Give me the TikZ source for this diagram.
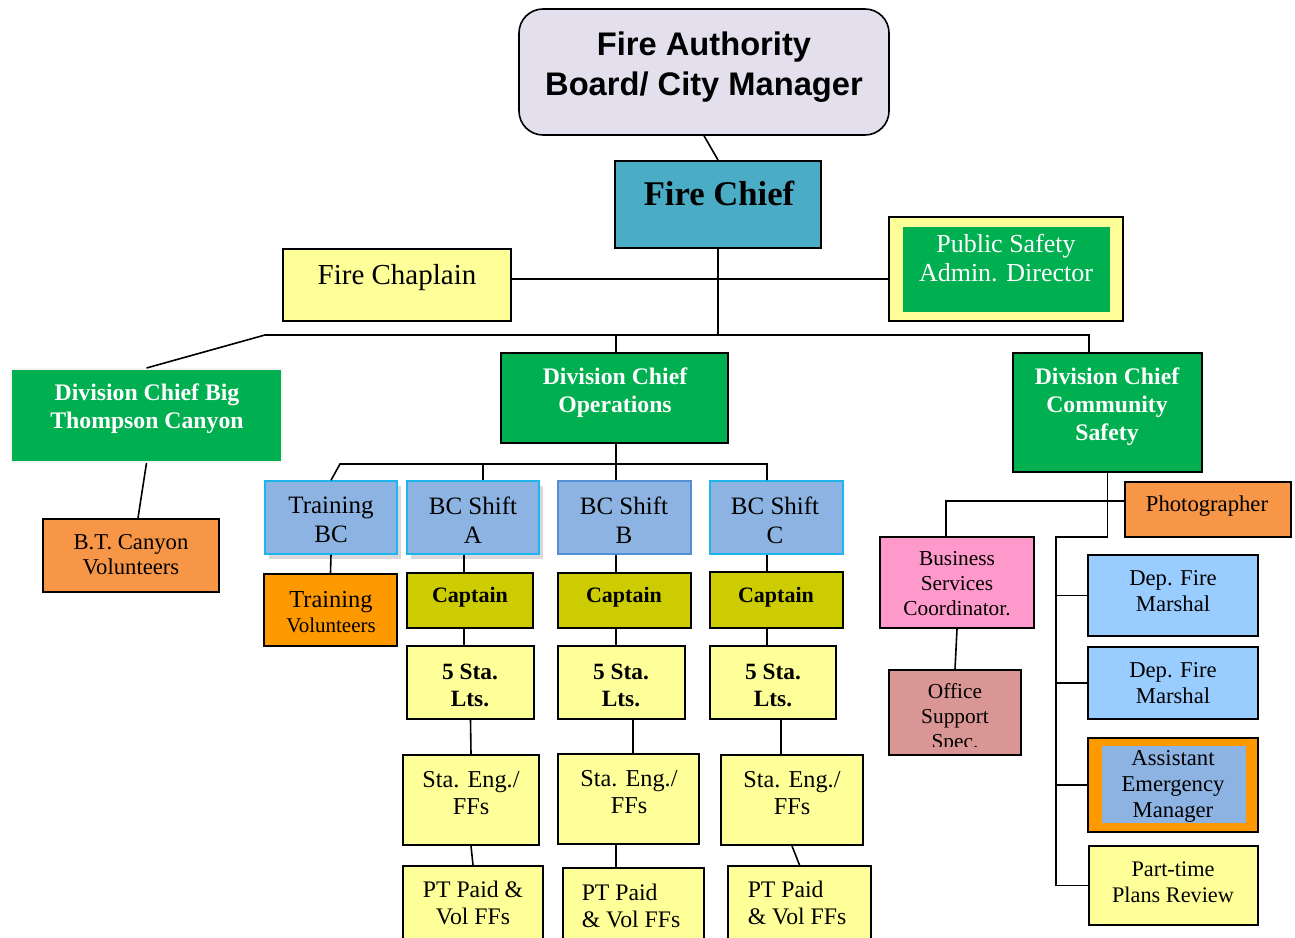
\documentclass[tikz,border=0pt]{standalone}
\usepackage{fontspec}
\setmainfont{Liberation Serif}
\newfontfamily\arialf{Liberation Sans}
\usetikzlibrary{fit,calc,shadows}
\definecolor{lav}{HTML}{E4DFEC}
\definecolor{fcblue}{HTML}{4BACC6}
\definecolor{yel}{HTML}{FFFF99}
\definecolor{grn}{HTML}{00B050}
\definecolor{orng}{HTML}{F79646}
\definecolor{orng2}{HTML}{FF9900}
\definecolor{blu}{HTML}{8DB3E2}
\definecolor{cyanb}{HTML}{1EB4EC}
\definecolor{bcbb}{HTML}{558ED5}
\definecolor{capy}{HTML}{CCCC00}
\definecolor{pinkb}{HTML}{FF99CC}
\definecolor{rose}{HTML}{DA9694}
\definecolor{lblue}{HTML}{99CCFF}
\newcommand\fs[2]{\fontsize{#1pt}{#2pt}\selectfont}
\tikzset{
  bx/.style={draw=black, line width=1.5pt, inner sep=0pt, rectangle},
  conn/.style={draw=black, line width=1.2pt},
  txt/.style={align=center, inner sep=0pt, text=black},
  shad/.style={drop shadow={opacity=0.3, shadow xshift=3pt, shadow yshift=-4pt}},
}
\begin{document}
\begin{tikzpicture}[x=0.75pt,y=-0.75pt]
\useasboundingbox (0,0) rectangle (1295,938);
\clip (0,0) rectangle (1295,938);

% top
\node[bx, fill=lav, rounded corners=18pt, line width=1.2pt, fit={(519,9)(889,135)}] (fa) {};
\node[txt, font=\arialf\bfseries\fs{24.5}{30}] (fa-t) at (704,67) {Fire Authority\\Board/ City Manager};
\node[bx, fill=fcblue, fit={(615,161)(821,248)}] (fc) {};
\node[txt, font=\bfseries\fs{26}{30}] (fc-t) at (719,193) {Fire Chief};
\node[bx, fill=yel, line width=1.2pt, fit={(283,249)(511,321)}] (chap) {};
\node[txt, font=\fs{21.75}{26}] (chap-t) at (397,278) {Fire Chaplain};
\node[bx, fill=yel, line width=1.2pt, fit={(889,217)(1123,321)}] (psad) {};
\node[rectangle, fill=grn, inner sep=0pt, fit={(903,227)(1110,312)}] (psad-in) {};
\node[txt, text=white, font=\fs{19.5}{21.75}] (psad-t) at (1006,258) {Public Safety\\Admin. Director};

% division chiefs
\node[bx, fill=grn, draw=gray!8, fit={(11,369)(282,462)}] (dcb) {};
\node[txt, text=white, font=\bfseries\fs{17.8}{21}] (dcb-t) at (147,409) {Division Chief Big\\Thompson Canyon};
\node[bx, fill=orng, fit={(43,519)(219,592)}] (bt) {};
\node[txt, font=\fs{17}{18.75}] (bt-t) at (131,555) {B.T. Canyon\\Volunteers};
\node[bx, fill=grn, fit={(501,353)(728,443)}] (dco) {};
\node[txt, text=white, font=\bfseries\fs{17.8}{21}] (dco-t) at (615,393) {Division Chief\\Operations};
\node[bx, fill=grn, fit={(1013,353)(1202,472)}] (dccs) {};
\node[txt, text=white, font=\bfseries\fs{17.8}{21}] (dccs-t) at (1107,407) {Division Chief\\Community\\Safety};

% BC row
\node[bx, fill=blu, draw=cyanb, line width=1.2pt, shad, fit={(265,481)(397,554)}] (tbc) {};
\node[txt, font=\fs{18.75}{21.75}] (tbc-t) at (331,520) {Training\\BC};
\node[bx, fill=blu, draw=cyanb, line width=1.2pt, shad, fit={(407,481)(539,554)}] (bca) {};
\node[txt, font=\fs{18.75}{21.75}] (bca-t) at (473,520) {BC Shift\\A};
\node[bx, fill=blu, draw=bcbb, line width=1.5pt, fit={(558,481)(691,554)}] (bcb) {};
\node[txt, font=\fs{18.75}{21.75}] (bcb-t) at (624,520) {BC Shift\\B};
\node[bx, fill=blu, draw=cyanb, line width=1.2pt, fit={(710,481)(843,554)}] (bcc) {};
\node[txt, font=\fs{18.75}{21.75}] (bcc-t) at (775,520) {BC Shift\\C};

\node[bx, fill=orng2, fit={(264,574)(397,646)}] (tv) {};
\node[txt] (tv-t) at (331,612) {{\fs{18.3}{22}Training}\\[3.5pt]{\fs{15.75}{22}Volunteers}};

% captains
\node[bx, fill=capy, fit={(407,573)(533,628)}] (capa) {};
\node[txt, font=\bfseries\fs{16.5}{20}] (capa-t) at (470,597) {Captain};
\node[bx, fill=capy, fit={(558,573)(691,628)}] (capb) {};
\node[txt, font=\bfseries\fs{16.5}{20}] (capb-t) at (624,597) {Captain};
\node[bx, fill=capy, line width=2.2pt, fit={(710,572)(843,628)}] (capc) {};
\node[txt, font=\bfseries\fs{16.5}{20}] (capc-t) at (776,597) {Captain};

% lieutenants
\node[bx, fill=yel, fit={(407,646)(534,719)}] (lta) {};
\node[txt, font=\bfseries\fs{17.5}{20.25}] (lta-t) at (470,685) {5 Sta.\\Lts.};
\node[bx, fill=yel, fit={(558,646)(685,719)}] (ltb) {};
\node[txt, font=\bfseries\fs{17.5}{20.25}] (ltb-t) at (621,685) {5 Sta.\\Lts.};
\node[bx, fill=yel, fit={(710,646)(836,719)}] (ltc) {};
\node[txt, font=\bfseries\fs{17.5}{20.25}] (ltc-t) at (773,685) {5 Sta.\\Lts.};

% station engineers
\node[bx, fill=yel, fit={(403,755)(539,845)}] (sea) {};
\node[txt, font=\fs{18.2}{20.25}] (sea-t) at (471,793) {Sta. Eng./\\FFs};
\node[bx, fill=yel, fit={(558,754)(699,844)}] (seb) {};
\node[txt, font=\fs{18.2}{20.25}] (seb-t) at (629,792) {Sta. Eng./\\FFs};
\node[bx, fill=yel, fit={(721,755)(863,845)}] (sec) {};
\node[txt, font=\fs{18.2}{20.25}] (sec-t) at (792,793) {Sta. Eng./\\FFs};

% PT paid
\node[bx, fill=yel, fit={(403,866)(543,948)}] (pta) {};
\node[txt, font=\fs{17.8}{20.25}] (pta-t) at (473,903) {PT Paid \&\\Vol FFs};
\node[bx, fill=yel, fit={(563,868)(704,948)}] (ptb) {};
\node[txt, align=left, font=\fs{17.8}{20.25}] (ptb-t) at (631,906) {PT Paid\\\& Vol FFs};
\node[bx, fill=yel, fit={(728,866)(871,948)}] (ptc) {};
\node[txt, align=left, font=\fs{17.8}{20.25}] (ptc-t) at (797,903) {PT Paid\\\& Vol FFs};

% right side
\node[bx, fill=orng, fit={(1125,482)(1291,537)}] (pho) {};
\node[txt, font=\fs{17}{20}] (pho-t) at (1207,506) {Photographer};
\node[bx, fill=pinkb, fit={(880,537)(1034,628)}] (bsc) {};
\node[txt, font=\fs{16}{18.75}] (bsc-t) at (957,584) {Business\\Services\\Coordinator.};
\node[bx, fill=rose, fit={(889,670)(1021,755)}] (off) {};
\begin{scope}
\clip (889,670) rectangle (1021,746);
\node[txt, font=\fs{16}{18.75}] (off-t) at (955,718) {Office\\Support\\Spec.};
\end{scope}
\node[bx, fill=lblue, fit={(1088,555)(1258,636)}] (dfm1) {};
\node[txt, font=\fs{17}{19.5}] (dfm1-t) at (1173,591) {Dep. Fire\\Marshal};
\node[bx, fill=lblue, fit={(1088,647)(1258,719)}] (dfm2) {};
\node[txt, font=\fs{17}{19.5}] (dfm2-t) at (1173,683) {Dep. Fire\\Marshal};
\node[bx, fill=orng2, fit={(1088,738)(1258,832)}] (aem) {};
\node[rectangle, fill=blu, inner sep=0pt, fit={(1102,746)(1246,823)}] (aem-in) {};
\node[txt, font=\fs{17}{19.5}] (aem-t) at (1173,786) {Assistant\\Emergency\\Manager};
\node[bx, fill=yel, fit={(1089,846)(1258,925)}] (ptpr) {};
\node[txt, font=\fs{16.7}{19.5}] (ptpr-t) at (1173,882) {Part-time\\Plans Review};

% coordinates
\coordinate (j0) at (718,335);
\coordinate (jL) at (265,335);
\coordinate (jR) at (1089,335);
\coordinate (jc) at (718,279);
\coordinate (k0) at (616,464);
\coordinate (kL) at (340,464);
\coordinate (kR) at (767,464);
\coordinate (ka) at (483,464);
\coordinate (xa) at (464,0);
\coordinate (xb) at (616,0);
\coordinate (xc) at (767,0);
\coordinate (xb2) at (633,0);
\coordinate (xc2) at (781,0);
\coordinate (m1) at (1109,537);
\coordinate (m2) at (1056,537);
\coordinate (mp) at (946,501);

% connectors
\draw[conn] (fa.south) -- (fc.north);
\draw[conn] (fc.south) -- (j0);
\draw[conn] (chap.east |- jc) -- (psad.west |- jc);
\draw[conn] (dcb.north) -- (jL) -- (jR) -- (jR |- dccs.north);
\draw[conn] (dco.north -| xb) -- (j0 -| xb);
\draw[conn] (dcb.south) -- ($(bt.north)+(7,0)$);
\draw[conn] (dco.south -| xb) -- (k0);
\draw[conn] (tbc.north) -- (kL) -- (kR) -- (kR |- bcc.north);
\draw[conn] (ka) -- (ka |- bca.north);
\draw[conn] (k0) -- (k0 |- bcb.north);
\draw[conn] (tbc.south) -- (tv.north);

\draw[conn] (bca.south -| xa) -- (capa.north -| xa);
\draw[conn] (capa.south -| xa) -- (lta.north -| xa);
\draw[conn] (lta.south) -- (sea.north);
\draw[conn] (sea.south) -- (pta.north);

\draw[conn] (bcb.south -| xb) -- (capb.north -| xb);
\draw[conn] (capb.south -| xb) -- (ltb.north -| xb);
\draw[conn] (ltb.south -| xb2) -- (seb.north -| xb2);
\draw[conn] (seb.south -| xb) -- (ptb.north -| xb);

\draw[conn] (bcc.south -| xc) -- (capc.north -| xc);
\draw[conn] (capc.south -| xc) -- (ltc.north -| xc);
\draw[conn] (ltc.south -| xc2) -- (sec.north -| xc2);
\draw[conn] (sec.south) -- (ptc.north);

\draw[conn] (dccs.south) -- (dccs.south |- m1) -- (m2) -- (m2 |- ptpr.west) -- (ptpr.west);
\draw[conn] (m2 |- dfm1.west) -- (dfm1.west);
\draw[conn] (m2 |- dfm2.west) -- (dfm2.west);
\draw[conn] (m2 |- aem.west) -- (aem.west);
\draw[conn] (pho.west |- mp) -- (mp) -- (mp |- bsc.north);
\draw[conn] (bsc.south) -- (off.north);
\end{tikzpicture}
\end{document}
